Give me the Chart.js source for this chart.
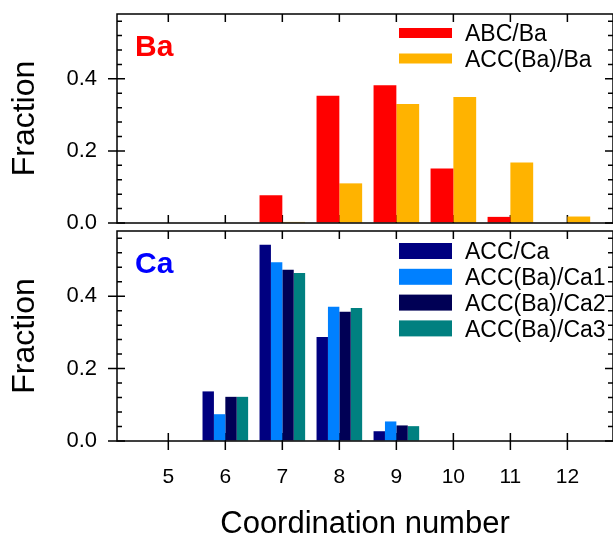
<!DOCTYPE html>
<html><head><meta charset="utf-8">
<script src="https://cdn.jsdelivr.net/npm/chart.js@4.4.1/dist/chart.umd.min.js"></script>
<style>
html,body{margin:0;padding:0;background:#fff;overflow:hidden}
#wrap{position:relative;width:613px;height:538px;background:#fff}
canvas{position:absolute;left:0;top:0}
</style></head>
<body><div id="wrap"><canvas id="c1" width="613" height="538"></canvas><canvas id="c2" width="613" height="538"></canvas></div>
<script>
// ---- data ----
const coordNumbers = [5, 6, 7, 8, 9, 10, 11, 12];
const xTickValues = [5, 6, 7, 8, 9, 10, 11, 12];
const yTickValues = [0, 0.2, 0.4];
const baLabels = ['ABC/Ba', 'ACC(Ba)/Ba'];
const abcBa   = [0, 0, 0.077, 0.353, 0.382, 0.151, 0.017, 0];
const accBaBa = [0, 0, 0.003, 0.110, 0.330, 0.350, 0.168, 0.018];
const caLabels = ['ACC/Ca', 'ACC(Ba)/Ca1', 'ACC(Ba)/Ca2', 'ACC(Ba)/Ca3'];
const accCa    = [0, 0.137, 0.542, 0.287, 0.027, 0, 0, 0];
const accBaCa1 = [0, 0.074, 0.494, 0.371, 0.054, 0, 0, 0];
const accBaCa2 = [0, 0.122, 0.473, 0.357, 0.043, 0, 0, 0];
const accBaCa3 = [0, 0.122, 0.464, 0.367, 0.041, 0, 0, 0];
const panelLabels = ['Ba', 'Ca'];
const xTitle = 'Coordination number';
const yTitle = 'Fraction';

// ---- styles ----
const FONT = '"Liberation Sans", Arial, Helvetica, sans-serif';
const X_MIN = 4.1, X_MAX = 12.8, Y_MIN = 0, Y_MAX = 0.58;
const baColors = ['#FF0000', '#FFB300'];
const caColors = ['#000080', '#0080FF', '#000055', '#008080'];
Chart.defaults.font.family = FONT;
Chart.defaults.color = '#000';

const toXY = vals => coordNumbers.map((x, i) => ({x: x, y: vals[i]}));

function framePlugin(cfg) {
  return {
    id: 'frame' + cfg.name,
    beforeDatasetsDraw(chart) {
      const ctx = chart.ctx;
      const {left: L, right: R, top: T, bottom: B} = chart.chartArea;
      const x = chart.scales.x, y = chart.scales.y;
      ctx.save();
      ctx.strokeStyle = '#000';
      ctx.lineWidth = 1.5;
      ctx.beginPath();
      for (let i = 0; i * 0.04 <= Y_MAX + 1e-9; i++) {
        const v = i * 0.04;
        const major = yTickValues.some(t => Math.abs(t - v) < 1e-6);
        const py = y.getPixelForValue(v);
        if (major) {
          ctx.moveTo(L - 9, py); ctx.lineTo(L + 8, py);
          ctx.moveTo(R - 8, py); ctx.lineTo(R, py);
        } else {
          ctx.moveTo(L, py); ctx.lineTo(L + 5, py);
          ctx.moveTo(R - 5, py); ctx.lineTo(R, py);
        }
      }
      xTickValues.forEach(v => {
        const px = x.getPixelForValue(v);
        ctx.moveTo(px, T); ctx.lineTo(px, T + 8);
        ctx.moveTo(px, B - 8); ctx.lineTo(px, B + (cfg.crossBottom ? 9 : 0));
      });
      ctx.stroke();
      ctx.restore();
    },
    afterDatasetsDraw(chart) {
      const ctx = chart.ctx;
      const {left: L, right: R, top: T, bottom: B} = chart.chartArea;
      ctx.save();
      ctx.strokeStyle = '#000';
      ctx.lineWidth = 1.5;
      ctx.strokeRect(L, T, R - L, B - T);
      // panel label
      ctx.fillStyle = cfg.labelColor;
      ctx.font = 'bold 30px ' + FONT;
      ctx.textAlign = 'left';
      ctx.textBaseline = 'alphabetic';
      ctx.fillText(cfg.label, L + 18, T + 42);
      // legend
      ctx.font = '23px ' + FONT;
      chart.data.datasets.forEach((ds, i) => {
        const cy = T + cfg.legendFirst + i * cfg.legendStep;
        ctx.fillStyle = ds.backgroundColor;
        ctx.fillRect(399, cy - cfg.swatchH / 2, 53, cfg.swatchH);
        ctx.fillStyle = '#000';
        ctx.fillText(ds.label, 465, cy + 0.358 * 23);
      });
      ctx.restore();
    }
  };
}

function makeChart(id, datasets, cfg) {
  return new Chart(document.getElementById(id), {
    type: 'bar',
    data: {datasets: datasets},
    options: {
      responsive: false,
      animation: false,
      devicePixelRatio: 1,
      layout: {padding: cfg.padding, autoPadding: false},
      plugins: {legend: {display: false}, tooltip: {enabled: false}},
      datasets: {bar: {categoryPercentage: 0.8, barPercentage: 1.0, borderWidth: 0}},
      scales: {
        x: {
          type: 'linear', min: X_MIN, max: X_MAX, offset: false,
          afterBuildTicks: s => { s.ticks = xTickValues.map(v => ({value: v})); },
          afterFit: s => { s.height = cfg.xHeight; },
          grid: {display: true, color: 'rgba(0,0,0,0)', drawOnChartArea: false, drawTicks: true, tickLength: 24},
          border: {display: false},
          ticks: {display: cfg.showX, padding: 0, font: {size: 21, family: FONT}, color: '#000',
                  callback: v => String(v)},
          title: {display: cfg.showX, text: xTitle, font: {size: 31, family: FONT, lineHeight: 0.9},
                  padding: {top: 0, bottom: 0}, color: '#000'}
        },
        y: {
          type: 'linear', min: Y_MIN, max: Y_MAX,
          afterBuildTicks: s => { s.ticks = yTickValues.map(v => ({value: v})); },
          afterFit: s => { s.width = 117; },
          grid: {display: true, color: 'rgba(0,0,0,0)', drawOnChartArea: false, drawTicks: true, tickLength: 20},
          border: {display: false},
          ticks: {padding: 0, font: {size: 22, family: FONT}, color: '#000',
                  callback: v => Number(v).toFixed(1)},
          title: {display: true, text: yTitle, font: {size: 32, family: FONT}, padding: {top: 6, bottom: 0}, color: '#000'}
        }
      }
    },
    plugins: [framePlugin(cfg)]
  });
}

makeChart('c1', [
  {label: baLabels[0], data: toXY(abcBa), backgroundColor: baColors[0]},
  {label: baLabels[1], data: toXY(accBaBa), backgroundColor: baColors[1]}
], {name: 'top', label: panelLabels[0], labelColor: '#FF0000', padding: {top: 14, left: 0, right: 0, bottom: 315},
    xHeight: 0, showX: false, crossBottom: false, legendFirst: 19, legendStep: 25.5, swatchH: 10});

makeChart('c2', [
  {label: caLabels[0], data: toXY(accCa), backgroundColor: caColors[0]},
  {label: caLabels[1], data: toXY(accBaCa1), backgroundColor: caColors[1]},
  {label: caLabels[2], data: toXY(accBaCa2), backgroundColor: caColors[2]},
  {label: caLabels[3], data: toXY(accBaCa3), backgroundColor: caColors[3]}
], {name: 'bot', label: panelLabels[1], labelColor: '#0000FF', padding: {top: 231, left: 0, right: 0, bottom: 0},
    xHeight: 97, showX: true, crossBottom: true, legendFirst: 20, legendStep: 25.8, swatchH: 16});
</script>
</body></html>
